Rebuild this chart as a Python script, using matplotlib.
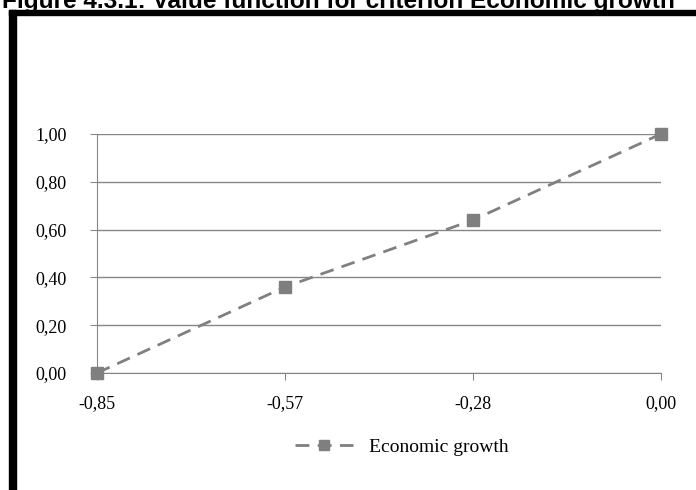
import matplotlib
matplotlib.use("Agg")
import matplotlib.pyplot as plt
from matplotlib.patches import Rectangle

# data
categories = ["-0,85", "-0,57", "-0,28", "0,00"]
values = [0.00, 0.36, 0.64, 1.00]
y_ticks = [0.0, 0.2, 0.4, 0.6, 0.8, 1.0]
y_tick_labels = ["0,00", "0,20", "0,40", "0,60", "0,80", "1,00"]
series_name = "Economic growth"
title = "Figure 4.3.1: Value function for criterion Economic growth"

W, H = 696, 490
fig = plt.figure(figsize=(W / 100, H / 100), dpi=100)

# thick black frame on the top and left
fig.patches.append(Rectangle((9 / W, 0), 7 / W, (H - 10) / H, transform=fig.transFigure,
                             color="black", zorder=5))
fig.patches.append(Rectangle((9 / W, (H - 15) / H), (W - 9) / W, 5 / H, transform=fig.transFigure,
                             color="black", zorder=5))

fig.text(2 / W, (H - 8) / H, title, fontsize=17.6, fontweight="bold",
         family="Liberation Sans", va="baseline", ha="left")

ax = fig.add_axes([97 / W, 1 - 373 / H, (661 - 97) / W, (373 - 134) / H])
x = list(range(len(categories)))
ax.plot(x, values, color="#808080", linestyle=(0, (5, 3)), linewidth=2,
        marker="s", markersize=9, markerfacecolor="#7f7f7f", markeredgecolor="#7f7f7f",
        label=series_name, clip_on=False, zorder=3)

ax.set_xlim(0, len(categories) - 1)
ax.set_ylim(0, 1)
ax.set_xticks(x)
ax.set_xticklabels(categories)
ax.set_yticks(y_ticks)
ax.set_yticklabels(y_tick_labels)

for lab in ax.get_xticklabels() + ax.get_yticklabels():
    lab.set_family("Liberation Serif")
    lab.set_fontsize(13)

ax.grid(axis="y", color="#868686", linewidth=1)
ax.set_axisbelow(True)
for side in ["top", "right"]:
    ax.spines[side].set_visible(False)
ax.spines["left"].set_color("#868686")
ax.spines["bottom"].set_color("#868686")
ax.tick_params(axis="y", length=5, color="#868686", pad=17)
ax.tick_params(axis="x", length=5, color="#868686", pad=11)

ax.legend(loc="upper center", bbox_to_anchor=(0.54, -0.2), frameon=False,
          prop={"family": "Liberation Serif", "size": 14}, handlelength=3.0, markerscale=0.8)

fig.savefig("out.png", dpi=100)
